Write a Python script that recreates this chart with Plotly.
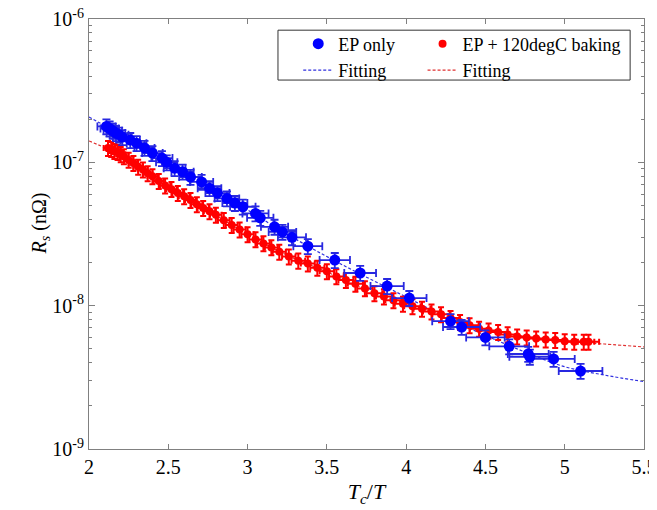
import plotly.graph_objects as go

# ---- data ----
ep_x = [2.11, 2.13, 2.15, 2.17, 2.19, 2.21, 2.26, 2.30, 2.35, 2.40, 2.46, 2.49, 2.54, 2.59,
        2.64, 2.71, 2.76, 2.81, 2.87, 2.92, 2.97, 3.05, 3.08, 3.17, 3.22, 3.28, 3.38, 3.55,
        3.71, 3.88, 4.02, 4.28, 4.35, 4.50, 4.65, 4.77, 4.78, 4.93, 5.10]
ep_y = [17.8, 17.2, 16.6, 16.0, 15.6, 15.0, 14.3, 13.6, 12.6, 11.6, 10.7, 10.0, 9.1, 8.6,
        7.9, 7.3, 6.6, 6.1, 5.6, 5.2, 4.9, 4.4, 4.1, 3.55, 3.27, 3.0, 2.6, 2.08,
        1.69, 1.37, 1.13, 0.78, 0.71, 0.60, 0.52, 0.46, 0.44, 0.425, 0.35]  # x 1e-8

bk_x = [2.12, 2.14, 2.16, 2.18, 2.20, 2.22, 2.25, 2.28, 2.31, 2.34, 2.37, 2.40, 2.44, 2.48,
        2.52, 2.56, 2.60, 2.64, 2.68, 2.72, 2.76, 2.80, 2.85, 2.90, 2.95, 3.00, 3.05, 3.10,
        3.15, 3.20, 3.26, 3.32, 3.38, 3.44, 3.50, 3.56, 3.62, 3.68, 3.74, 3.80, 3.86, 3.92,
        3.98, 4.04, 4.10, 4.16, 4.22, 4.28, 4.34, 4.40, 4.46, 4.52, 4.58, 4.64, 4.70, 4.76,
        4.82, 4.88, 4.94, 5.00, 5.06, 5.12, 5.15]
bk_y = [12.6, 12.4, 12.0, 11.8, 11.4, 11.0, 10.4, 9.9, 9.3, 8.9, 8.4, 8.0, 7.4, 6.9,
        6.5, 6.1, 5.8, 5.45, 5.1, 4.8, 4.55, 4.3, 3.95, 3.65, 3.4, 3.15, 2.9, 2.72,
        2.55, 2.38, 2.2, 2.06, 1.97, 1.84, 1.74, 1.6, 1.51, 1.42, 1.32, 1.22, 1.16, 1.09,
        1.03, 0.99, 0.95, 0.91, 0.87, 0.82, 0.77, 0.73, 0.69, 0.67, 0.655, 0.63, 0.61, 0.60,
        0.59, 0.58, 0.575, 0.565, 0.56, 0.56, 0.56]  # x 1e-8

fit_x = [2.0, 2.25, 2.5, 2.75, 3.0, 3.25, 3.5, 3.75, 4.0, 4.25, 4.5, 4.75, 5.0, 5.25, 5.5]
fit_ep = [20.7, 14.5, 9.9, 6.8, 4.65, 3.15, 2.2, 1.58, 1.15, 0.83, 0.62, 0.475, 0.375, 0.328, 0.295]
fit_bk = [14.1, 10.5, 6.8, 4.6, 3.15, 2.25, 1.72, 1.3, 1.03, 0.85, 0.68, 0.61, 0.565, 0.54, 0.515]

scale = 1e-8
y_tickvals = [1e-9, 1e-8, 1e-7, 1e-6]
y_ticktext = ["10<sup>-9</sup>", "10<sup>-8</sup>", "10<sup>-7</sup>", "10<sup>-6</sup>"]
x_tickvals = [2, 2.5, 3, 3.5, 4, 4.5, 5, 5.5]
x_ticktext = ["2", "2.5", "3", "3.5", "4", "4.5", "5", "5.5"]

BLUE = "#0000ff"
RED = "#ff0000"
FONT = "Liberation Serif"

fig = go.Figure()

fig.add_trace(go.Scatter(
    x=fit_x, y=[v * scale for v in fit_ep], mode="lines", line_shape="spline",
    line=dict(color="#3030e0", width=1.2, dash="3px,2px"),
    name="Fitting", legend="legend", legendrank=2, showlegend=True))
fig.add_trace(go.Scatter(
    x=fit_x, y=[v * scale for v in fit_bk], mode="lines", line_shape="spline",
    line=dict(color="#e03030", width=1.2, dash="3px,2px"),
    name="Fitting", legend="legend2", legendrank=2, showlegend=True))

fig.add_trace(go.Scatter(
    x=bk_x, y=[v * scale for v in bk_y], mode="markers", name="EP + 120degC baking",
    marker=dict(color=RED, size=8, symbol="circle"),
    error_x=dict(type="percent", value=1.3, color=RED, thickness=2, width=3),
    error_y=dict(type="percent", value=12, color=RED, thickness=2, width=3),
    legend="legend2", legendrank=1))
fig.add_trace(go.Scatter(
    x=ep_x, y=[v * scale for v in ep_y], mode="markers", name="EP only",
    marker=dict(color=BLUE, size=11, symbol="circle"),
    error_x=dict(type="percent", value=2.7, color="#2828e0", thickness=1.8, width=4),
    error_y=dict(type="percent", value=12, color="#2828e0", thickness=1.8, width=4),
    legend="legend", legendrank=1))

fig.update_layout(
    width=657, height=510,
    margin=dict(l=81, r=21, t=11, b=69, autoexpand=False),
    paper_bgcolor="white", plot_bgcolor="white",
    font=dict(family=FONT, size=20, color="black"),
    legend=dict(x=0.377, y=0.985, xanchor="left", yanchor="top", bgcolor="rgba(0,0,0,0)",
                font=dict(family=FONT, size=18), tracegroupgap=0, itemwidth=30),
    legend2=dict(x=0.601, y=0.985, xanchor="left", yanchor="top", bgcolor="rgba(0,0,0,0)",
                 font=dict(family=FONT, size=18), tracegroupgap=0, itemwidth=30),
    shapes=[dict(type="rect", xref="paper", yref="paper", x0=0.3405, x1=0.975,
                 y0=0.858, y1=0.974, line=dict(color="#333333", width=1))],
    annotations=[dict(text="<i>R</i><sub><i>s</i></sub> (nΩ)", xref="paper", yref="paper",
                      x=-0.088, y=0.525, textangle=-90, showarrow=False,
                      xanchor="center", yanchor="middle",
                      font=dict(family=FONT, size=20, color="black"))],
)

fig.update_xaxes(
    range=[2, 5.5], tickvals=x_tickvals, ticktext=x_ticktext, automargin=False,
    showgrid=False, zeroline=False, showline=True, linecolor="#808080", linewidth=1,
    mirror="allticks", ticks="inside", ticklen=5, tickcolor="#808080",
    tickfont=dict(family=FONT, size=20), ticklabeloverflow="allow",
    title=dict(text="<i>T</i><sub><i>c</i></sub>/<i>T</i>", font=dict(family=FONT, size=22), standoff=6),
)
fig.update_yaxes(
    type="log", range=[-9, -6], tickvals=y_tickvals, ticktext=y_ticktext, automargin=False,
    showgrid=False, zeroline=False, showline=True, linecolor="#808080", linewidth=1,
    mirror="allticks", ticks="inside", ticklen=6, tickcolor="#808080",
    minor=dict(ticks="inside", ticklen=3, tickcolor="#808080", dtick="D1", showgrid=False),
    tickfont=dict(family=FONT, size=20), ticklabeloverflow="allow",
)

fig.write_html("out.html")
